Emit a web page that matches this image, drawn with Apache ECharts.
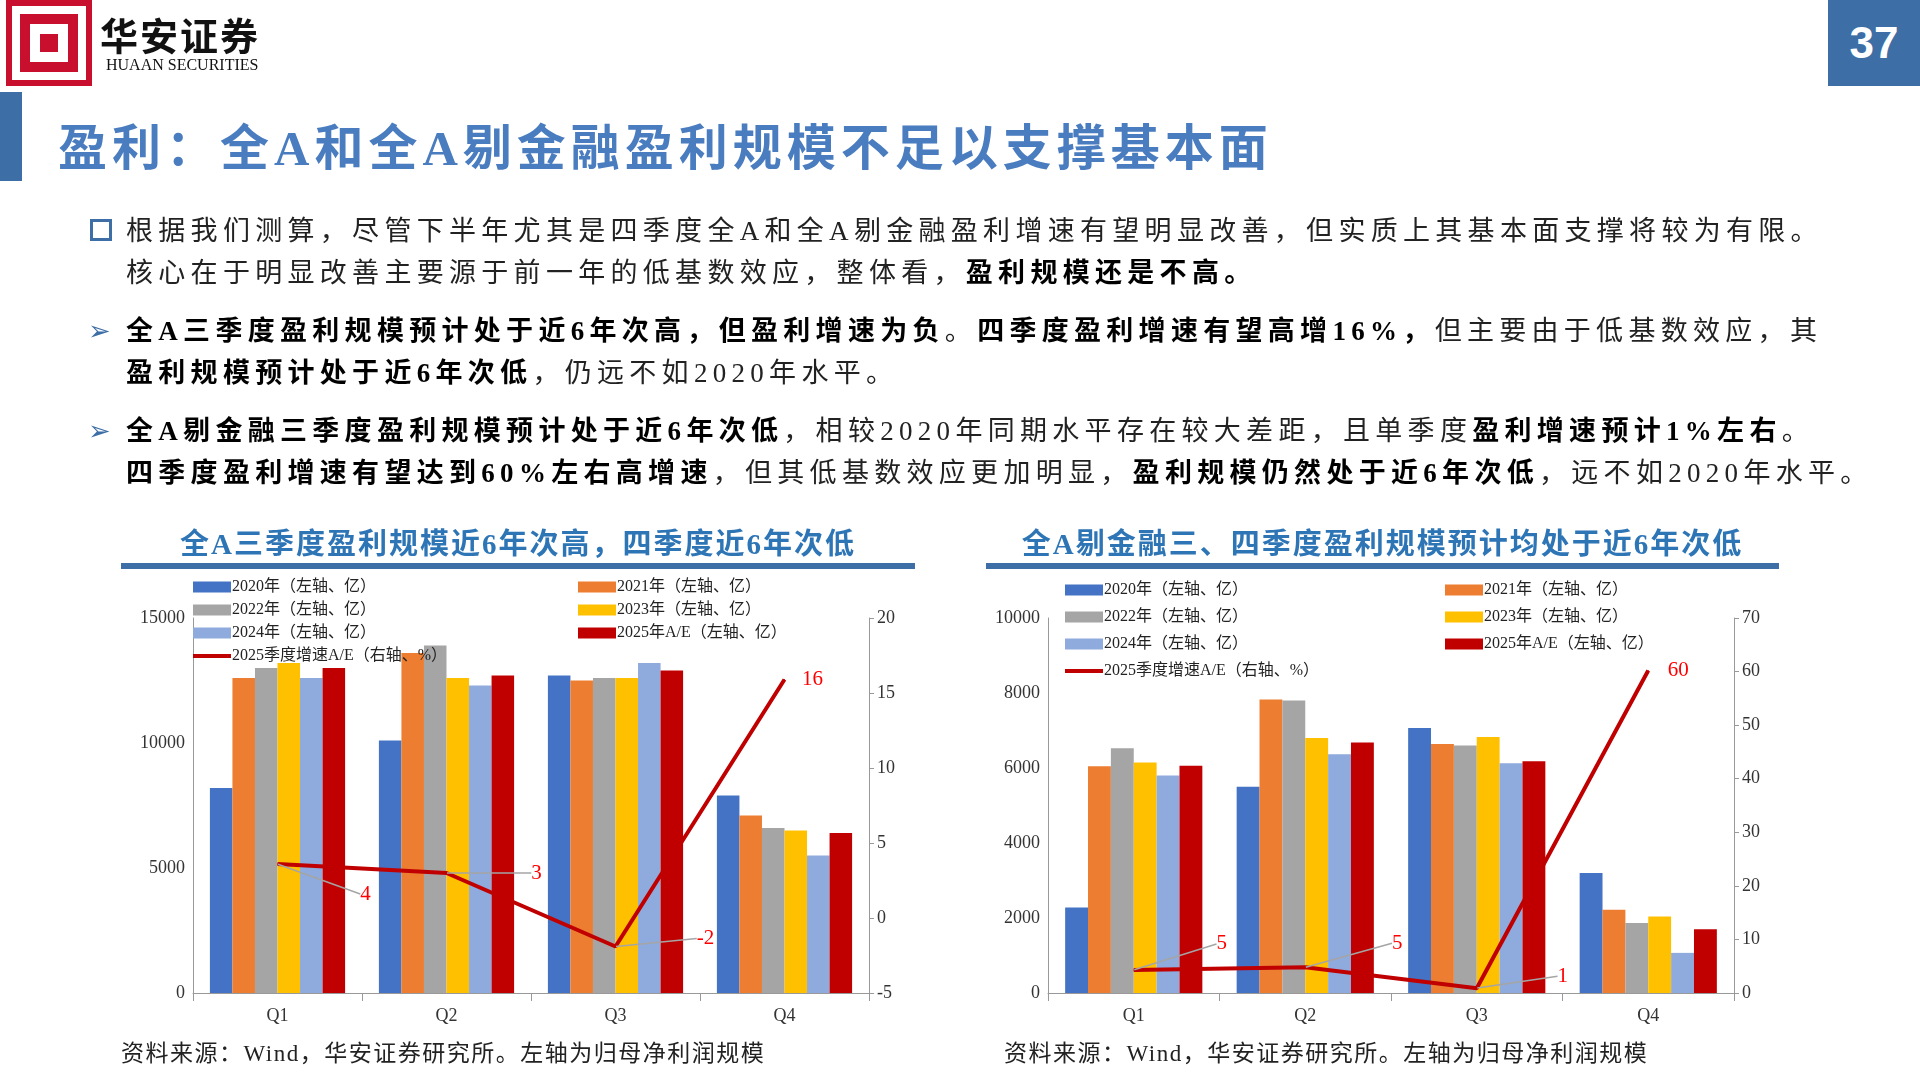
<!DOCTYPE html>
<html><head><meta charset="utf-8">
<script src="https://cdn.jsdelivr.net/npm/echarts@6/dist/echarts.min.js"></script>
<style>
body{margin:0;width:1920px;height:1080px;background:#fff;position:relative;overflow:hidden;font-family:"Liberation Serif","Noto Sans CJK SC",serif;}
#c{position:absolute;left:0;top:0;width:1920px;height:1080px;}
.abs{position:absolute;white-space:nowrap;}
.txt{font-size:27px;color:#222;line-height:42px;letter-spacing:5.3px;}
b{font-weight:bold;color:#000;}
.ct{font-size:29px;color:#2e75b6;font-weight:bold;letter-spacing:2px;}
.src{font-size:23px;color:#222;letter-spacing:1.5px;}
</style></head><body>
<div id="c"></div>
<div class="abs" style="left:6px;top:0;width:74px;height:74px;border:6px solid #c8102e;background:#fff"></div>
<div class="abs" style="left:20px;top:14px;width:58px;height:58px;background:#c8102e"></div>
<div class="abs" style="left:30px;top:24px;width:38px;height:38px;background:#fff"></div>
<div class="abs" style="left:40px;top:34px;width:18px;height:18px;background:#c8102e"></div>
<div class="abs" style="left:100px;top:6px;font-size:38px;font-weight:bold;color:#111;letter-spacing:2px">华安证券</div>
<div class="abs" style="left:106px;top:56px;font-size:16px;color:#111">HUAAN SECURITIES</div>
<div class="abs" style="left:1828px;top:0;width:92px;height:86px;background:#3d6ea5;color:#fff;font-size:44px;font-weight:bold;text-align:center;line-height:86px;font-family:'Liberation Sans',sans-serif">37</div>
<div class="abs" style="left:0;top:92px;width:22px;height:89px;background:#3d6ea5"></div>
<div class="abs" style="left:58px;top:108px;font-size:49px;color:#4a7cc0;font-weight:bold;letter-spacing:5px">盈利：全A和全A剔金融盈利规模不足以支撑基本面</div>
<div class="abs" style="left:90px;top:219px;width:16px;height:16px;border:3px solid #3d6ea5"></div>
<div class="abs txt" style="left:126px;top:210px">根据我们测算，尽管下半年尤其是四季度全A和全A剔金融盈利增速有望明显改善，但实质上其基本面支撑将较为有限。</div>
<div class="abs txt" style="left:126px;top:252px">核心在于明显改善主要源于前一年的低基数效应，整体看，<b>盈利规模还是不高。</b></div>
<div class="abs txt" style="left:88px;top:310px;color:#3d6ea5">➢</div>
<div class="abs txt" style="left:126px;top:310px"><b>全A三季度盈利规模预计处于近6年次高，但盈利增速为负</b>。<b>四季度盈利增速有望高增16%，</b>但主要由于低基数效应，其</div>
<div class="abs txt" style="left:126px;top:352px"><b>盈利规模预计处于近6年次低</b>，仍远不如2020年水平。</div>
<div class="abs txt" style="left:88px;top:410px;color:#3d6ea5">➢</div>
<div class="abs txt" style="left:126px;top:410px"><b>全A剔金融三季度盈利规模预计处于近6年次低</b>，相较2020年同期水平存在较大差距，且单季度<b>盈利增速预计1%左右</b>。</div>
<div class="abs txt" style="left:126px;top:452px"><b>四季度盈利增速有望达到60%左右高增速</b>，但其低基数效应更加明显，<b>盈利规模仍然处于近6年次低</b>，远不如2020年水平。</div>
<div class="abs ct" style="left:121px;width:794px;text-align:center;top:520px">全A三季度盈利规模近6年次高，四季度近6年次低</div>
<div class="abs" style="left:121px;width:794px;top:563px;height:6px;background:#3d6ea5"></div>
<div class="abs ct" style="left:986px;width:793px;text-align:center;top:520px">全A剔金融三、四季度盈利规模预计均处于近6年次低</div>
<div class="abs" style="left:986px;width:793px;top:563px;height:6px;background:#3d6ea5"></div>
<div class="abs src" style="left:121px;top:1034px">资料来源：Wind，华安证券研究所。左轴为归母净利润规模</div>
<div class="abs src" style="left:1004px;top:1034px">资料来源：Wind，华安证券研究所。左轴为归母净利润规模</div>
<script>
const categories=['Q1','Q2','Q3','Q4'];
const barNames=['2020年（左轴、亿）','2021年（左轴、亿）','2022年（左轴、亿）','2023年（左轴、亿）','2024年（左轴、亿）','2025年A/E（左轴、亿）'];
const lineName='2025季度增速A/E（右轴、%）';
// 全A
const allA_2020=[8200,10100,12700,7900];
const allA_2021=[12600,13600,12500,7100];
const allA_2022=[13000,13900,12600,6600];
const allA_2023=[13200,12600,12600,6500];
const allA_2024=[12600,12300,13200,5500];
const allA_2025=[13000,12700,12900,6400];
const allA_growth=[3.6,3.0,-1.9,15.9];
const allA_growthLabels=['4','3','-2','16'];
// 全A剔金融
const exF_2020=[2280,5500,7070,3200];
const exF_2021=[6050,7830,6640,2220];
const exF_2022=[6530,7800,6600,1870];
const exF_2023=[6150,6800,6830,2040];
const exF_2024=[5800,6370,6130,1070];
const exF_2025=[6060,6680,6180,1700];
const exF_growth=[4.3,4.8,0.9,60.2];
const exF_growthLabels=['5','5','1','60'];

const colors=['#4472C4','#ED7D31','#A5A5A5','#FFC000','#8FAADC','#C00000'];
const font='"Liberation Serif","Noto Sans CJK SC",serif';
const offL=[[88,30],[90,0],[90,-8],[28,0]];
const offR=[[88,-26],[92,-24],[86,-12],[30,0]];

function build(gi,bars,growth,glabels,offs){
  const series=bars.map((d,i)=>({name:barNames[i],type:'bar',xAxisIndex:gi,yAxisIndex:gi*2,data:d,
    itemStyle:{color:colors[i]},barGap:'0%',barCategoryGap:'20%'}));
  series.push({name:lineName,type:'line',xAxisIndex:gi,yAxisIndex:gi*2+1,
    data:growth.map((v,i)=>i===growth.length-1?{value:v,labelLine:{show:false}}:v),
    symbol:'circle',symbolSize:1,showSymbol:true,
    lineStyle:{color:'#C00000',width:4},itemStyle:{color:'#C00000'},z:5,
    label:{show:true,position:'inside',color:'#FF0000',fontSize:21,fontFamily:font,formatter:p=>glabels[p.dataIndex]},
    labelLayout:p=>({dx:offs[p.dataIndex][0],dy:offs[p.dataIndex][1]}),
    labelLine:{show:true,lineStyle:{color:'#A5A5A5',width:1.5},length2:0}});
  return series;
}
const axLab={color:'#333',fontSize:18,fontFamily:font,formatter:v=>String(v)};
const axLine={show:true,lineStyle:{color:'#999'}};
const rTick={show:true,inside:false,length:5,lineStyle:{color:'#999'}};
const option={
  animation:false,
  grid:[{left:193,width:676,top:618,height:375},{left:1048,width:686,top:618,height:375}],
  xAxis:[0,1].map(g=>({type:'category',gridIndex:g,data:categories,axisLine:axLine,
    axisTick:{show:true,length:8,lineStyle:{color:'#999'}},axisLabel:{color:'#333',fontSize:18,fontFamily:font,margin:14}})),
  yAxis:[
    {gridIndex:0,type:'value',min:0,max:15000,interval:5000,axisLine:axLine,axisTick:{show:false},splitLine:{show:false},axisLabel:axLab},
    {gridIndex:0,type:'value',min:-5,max:20,interval:5,position:'right',axisLine:axLine,axisTick:rTick,splitLine:{show:false},axisLabel:axLab},
    {gridIndex:1,type:'value',min:0,max:10000,interval:2000,axisLine:axLine,axisTick:{show:false},splitLine:{show:false},axisLabel:axLab},
    {gridIndex:1,type:'value',min:0,max:70,interval:10,position:'right',axisLine:axLine,axisTick:rTick,splitLine:{show:false},axisLabel:axLab}
  ],
  series:[...build(0,[allA_2020,allA_2021,allA_2022,allA_2023,allA_2024,allA_2025],allA_growth,allA_growthLabels,offL),
          ...build(1,[exF_2020,exF_2021,exF_2022,exF_2023,exF_2024,exF_2025],exF_growth,exF_growthLabels,offR)]
};
const lg=(left,top,gap,names)=>({left,top,orient:'vertical',itemGap:gap,itemWidth:38,itemHeight:11,padding:0,
  textStyle:{fontSize:16,color:'#222',fontFamily:font,padding:[0,0,0,-4]},
  data:names.map(n=>n===lineName?{name:n,icon:'path://M0,0H40V4H0Z',itemStyle:{color:'#C00000'}}:{name:n,icon:'rect'})});
option.legend=[
  lg(193,579,7,[barNames[0],barNames[2],barNames[4],lineName]),
  lg(578,579,7,[barNames[1],barNames[3],barNames[5]]),
  lg(1065,582,11,[barNames[0],barNames[2],barNames[4],lineName]),
  lg(1445,582,11,[barNames[1],barNames[3],barNames[5]])
];
const ch=echarts.init(document.getElementById('c'));
ch.setOption(option);
</script>
</body></html>
